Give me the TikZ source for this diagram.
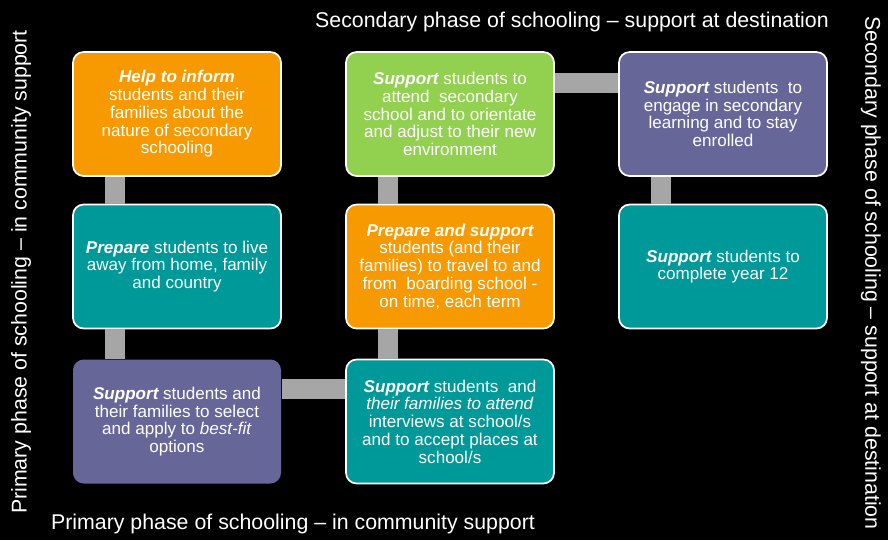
\documentclass[tikz,border=0pt]{standalone}
\usepackage{fontspec}
\setmainfont{Liberation Sans}
\usetikzlibrary{calc,positioning}

\definecolor{stageorange}{RGB}{247,153,0}
\definecolor{stagegreen}{RGB}{146,208,80}
\definecolor{stagepurple}{RGB}{102,102,153}
\definecolor{stageteal}{RGB}{0,153,153}
\definecolor{linkgray}{RGB}{166,166,166}

\newcommand{\stepverb}[1]{{\bfseries\itshape #1}}

\begin{document}
\begin{tikzpicture}[x=0.75pt,y=0.75pt, line join=round]

% ---------- styles ----------
\tikzset{
  stage/.style={draw=white, line width=1.3pt, rounded corners=8pt,
    minimum width=156pt, minimum height=93pt, inner sep=3pt,
    align=center, text=white, font=\fontsize{12.8}{13.3}\selectfont},
  link/.style={draw=linkgray, line width=15pt, line cap=butt},
  phase/.style={text=white, inner sep=0pt, font=\fontsize{16}{19}\selectfont},
}

% ---------- canvas ----------
\fill[black] (0,0) rectangle (888,-540);
\useasboundingbox (0,0) rectangle (888,-540);

% ---------- phase captions ----------
\node[phase] (sectop) at (572,-22) {Secondary phase of schooling -- support at destination};
\node[phase] (primbot) at (293,-524) {Primary phase of schooling -- in community support};
\node[phase, rotate=90] (primside) at (21,-272) {Primary phase of schooling -- in community support};
\node[phase, rotate=-90] (secside) at (871,-273) {Secondary phase of schooling -- support at destination};

% ---------- left column ----------
\node[stage, fill=stageorange] (inform) at (177,-114)
  {\stepverb{Help to inform}\\ students and their\\ families about the\\
   nature of secondary\\ schooling};

\node[stage, fill=stageteal] (prepare) at (177,-266.5)
  {\stepverb{Prepare} students to live\\ away from home, family\\ and country};

\node[stage, fill=stagepurple, draw=none] (select) at (177,-421.5)
  {\stepverb{Support} students and\\ their families to select\\
   and apply to \textit{best-fit}\\ options};

% ---------- middle column ----------
\node[stage, fill=stagegreen] (attend) at (450,-114)
  {\stepverb{Support} students to\\ attend\ \ secondary\\ school and to orientate\\
   and adjust to their new\\ environment};

\node[stage, fill=stageorange] (travel) at (450,-266.5)
  {\stepverb{Prepare and support}\\ students (and their\\ families) to travel to and\\
   from\ \ boarding school -\\ on time, each term};

\node[stage, fill=stageteal] (interview) at (450,-421.5)
  {\stepverb{Support} students\ \ and\\ \textit{their families to attend}\\
   interviews at school/s\\ and to accept places at\\ school/s};

% ---------- right column ----------
\node[stage, fill=stagepurple] (engage) at (723,-114)
  {\stepverb{Support} students\ \ to\\ engage in secondary\\ learning and to stay\\ enrolled};

\node[stage, fill=stageteal] (complete) at (723,-266.5)
  {\stepverb{Support} students to\\ complete year\ 12};

% ---------- links ----------
\draw[link] ($(inform.south west)+(43,0)$) -- ($(prepare.north west)+(43,0)$);
\draw[link] ($(prepare.south west)+(43,0)$) -- ($(select.north west)+(43,0)$);
\draw[link] ($(select.north east)+(0,-30.5)$) -- ($(interview.north west)+(0,-30.5)$);
\draw[link] ($(interview.north west)+(43,0)$) -- ($(travel.south west)+(43,0)$);
\draw[link] ($(travel.north west)+(43,0)$) -- ($(attend.south west)+(43,0)$);
\draw[link] ($(attend.north east)+(0,-32)$) -- ($(engage.north west)+(0,-32)$);
\draw[link] ($(engage.south west)+(43,0)$) -- ($(complete.north west)+(43,0)$);

\end{tikzpicture}
\end{document}
